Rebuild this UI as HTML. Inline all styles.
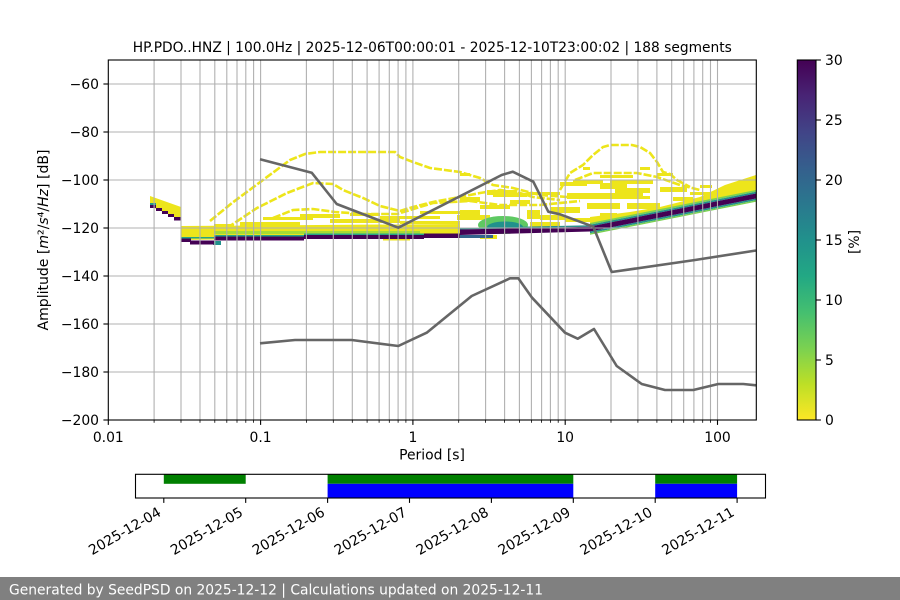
<!DOCTYPE html>
<html><head><meta charset="utf-8"><style>
html,body{margin:0;padding:0;background:#fff;}
svg{display:block;font-family:"DejaVu Sans","Liberation Sans",sans-serif;}
</style></head><body>
<svg width="900" height="600" viewBox="0 0 900 600" xmlns="http://www.w3.org/2000/svg">
<defs>
<linearGradient id="vir" x1="0" y1="0" x2="0" y2="1">
<stop offset="0" stop-color="#440154"/>
<stop offset="0.1" stop-color="#482475"/>
<stop offset="0.2" stop-color="#414487"/>
<stop offset="0.3" stop-color="#355f8d"/>
<stop offset="0.4" stop-color="#2a788e"/>
<stop offset="0.5" stop-color="#21918c"/>
<stop offset="0.6" stop-color="#22a884"/>
<stop offset="0.7" stop-color="#44bf70"/>
<stop offset="0.8" stop-color="#7ad151"/>
<stop offset="0.9" stop-color="#bddf26"/>
<stop offset="1" stop-color="#fde725"/>
</linearGradient>
<clipPath id="ax"><rect x="108.3" y="60" width="648" height="360"/></clipPath>
</defs>
<rect width="900" height="600" fill="#fff"/>

<!-- DATA -->
<g clip-path="url(#ax)">
 <!-- early cluster -->
 <polygon fill="#ede51b" points="150,196 181,207 181,220 150,206"/>
 <rect x="150" y="203" width="6" height="2" fill="#2a9a8a"/>
 <g fill="#440154">
  <rect x="150" y="205" width="6" height="3"/>
  <rect x="156" y="208" width="6" height="3"/>
  <rect x="162" y="211" width="6" height="3"/>
  <rect x="168" y="214" width="6" height="3"/>
  <rect x="174" y="217" width="7" height="3.5"/>
 </g>

 <!-- main yellow band -->
 <polygon fill="#ede51b" points="181,226 460,224 460,236 181,240"/>
 <g fill="#ede51b">
  <rect x="240" y="222" width="60" height="4"/>
  <rect x="263" y="217" width="50" height="3"/>
  <rect x="300" y="214" width="40" height="4"/>
  <rect x="330" y="219" width="70" height="4"/>
  <rect x="350" y="213" width="30" height="3"/>
  <rect x="380" y="216" width="60" height="3"/>
  <rect x="400" y="221" width="60" height="3"/>
  <rect x="420" y="211" width="40" height="3"/>
  <rect x="214" y="224" width="20" height="2"/>
 </g>

 <!-- scattered yellow -->
 <g fill="#ede51b">
  <rect x="460" y="173" width="10" height="3"/>
  <rect x="583" y="167" width="7" height="3"/>
  <rect x="600" y="175" width="33" height="3"/>
  <rect x="640" y="167" width="10" height="3"/>
  <rect x="657" y="173" width="16" height="3"/>
  <rect x="560" y="182" width="27" height="4"/>
  <rect x="600" y="183" width="27" height="6"/>
  <rect x="567" y="193" width="76" height="6"/>
  <rect x="587" y="203" width="33" height="6"/>
  <rect x="460" y="197" width="20" height="5"/>
  <rect x="493" y="193" width="34" height="4"/>
  <rect x="527" y="192" width="33" height="3"/>
  <rect x="550" y="207" width="30" height="6"/>
  <rect x="627" y="203" width="33" height="6"/>
  <rect x="527" y="210" width="13" height="9"/>
  <rect x="600" y="213" width="17" height="9"/>
  <rect x="460" y="210" width="20" height="9"/>
  <rect x="673" y="197" width="20" height="4"/>
  <rect x="573" y="180" width="30" height="4"/>
  <rect x="560" y="207" width="20" height="6"/>
  <rect x="610" y="180" width="43" height="4"/>
  <rect x="615" y="188" width="35" height="5"/>
  <rect x="620" y="196" width="30" height="3"/>
  <rect x="660" y="187" width="27" height="5"/>
  <rect x="690" y="192" width="20" height="3"/>
  <rect x="700" y="185" width="12" height="3"/>
  <rect x="480" y="205" width="30" height="4"/>
  <rect x="510" y="200" width="20" height="4"/>
  <rect x="540" y="215" width="25" height="5"/>
  <rect x="565" y="218" width="25" height="4"/>
  <rect x="457" y="215" width="33" height="5"/>
  <rect x="487" y="190" width="30" height="5"/>
  <rect x="530" y="222" width="30" height="5"/>
  <rect x="480" y="235" width="17" height="4"/>
  <rect x="383" y="238" width="27" height="2.5"/>
 </g>

 <!-- arcs -->
 <g fill="none" stroke="#ede51b" stroke-width="2.6" stroke-dasharray="8 2">
  <polyline points="210,221 232,203 263,180 290,160 305,154 320,152 395,152 400,157 413,162 430,168 460,172 480,178 493,185 513,188 540,195 567,197"/>
  <polyline points="227,228 257,208 287,193 313,183 333,184 343,190 363,198 380,206 400,211 413,207 433,202 460,197 480,193 500,190 520,193 533,197 560,200"/>
  <polyline points="273,218 293,210 313,209 335,212 365,214 397,214 433,203 470,201 500,205 540,205 580,201"/>
  <polyline points="560,190 570,173 583,165 593,155 603,147 610,145 632,145 640,147 650,153 657,162 663,172 670,174 677,180 690,187"/>
  <polyline points="575,180 593,173 637,173 657,177 680,185 700,190"/>
 </g>

 <!-- right fuzz above rising band -->
 <polygon fill="#ede51b" points="590,217 630,212 660,207 700,197 725,185 756,175 756,191 590,224.5"/>

 <!-- green/teal layers -->
 <rect x="214" y="231" width="206" height="3" fill="#a5db36"/>
 <ellipse cx="503" cy="225" rx="25" ry="9" fill="#5ec962"/>
 <ellipse cx="505" cy="227" rx="18" ry="5.5" fill="#21918c"/>
 <rect x="181" y="237" width="33" height="1.5" fill="#26a485"/>
 <rect x="214" y="235" width="90" height="1.5" fill="#26a485"/>
 <rect x="304" y="233.5" width="156" height="1.5" fill="#26a485"/>
 <polygon fill="#2a8f8b" points="460,228 590,225.3 590,226.8 460,229.5"/>
 <rect x="453" y="235" width="40" height="3" fill="#33638d"/>
 <rect x="213" y="241" width="8" height="4" fill="#21918c"/>

 <!-- rising band layers -->
 <polygon fill="#7ad151" points="590,223 756,190 756,191.8 590,224.8"/>
 <polygon fill="#21918c" points="590,224.8 756,191.8 756,193.5 590,226.5"/>
 <polygon fill="#21918c" points="590,231.5 756,198.5 756,200.3 590,233.3"/>
 <polygon fill="#7ad151" points="590,233.3 756,200.3 756,201.8 590,234.8"/>

 <!-- purple core -->
 <g fill="#440154">
  <rect x="181" y="238.5" width="10" height="3.5"/>
  <rect x="190" y="240.5" width="24" height="4"/>
  <rect x="214" y="236.5" width="90" height="4"/>
  <rect x="304" y="235" width="120" height="4"/>
  <rect x="424" y="233.5" width="36" height="4.5"/>
  <polygon points="460,229.5 590,226.8 590,231.5 460,235"/>
  <polygon points="590,226.5 756,193.5 756,198.5 590,231.5"/>
 </g>
</g>

<!-- GRID -->
<g stroke="#b0b0b0" stroke-width="1.1">
 <line x1="108.3" y1="84" x2="756.3" y2="84"/>
 <line x1="108.3" y1="132" x2="756.3" y2="132"/>
 <line x1="108.3" y1="180" x2="756.3" y2="180"/>
 <line x1="108.3" y1="228" x2="756.3" y2="228"/>
 <line x1="108.3" y1="276" x2="756.3" y2="276"/>
 <line x1="108.3" y1="324" x2="756.3" y2="324"/>
 <line x1="108.3" y1="372" x2="756.3" y2="372"/>
 <line x1="154.1" y1="60" x2="154.1" y2="420"/>
 <line x1="181" y1="60" x2="181" y2="420"/>
 <line x1="200" y1="60" x2="200" y2="420"/>
 <line x1="214.8" y1="60" x2="214.8" y2="420"/>
 <line x1="226.8" y1="60" x2="226.8" y2="420"/>
 <line x1="237" y1="60" x2="237" y2="420"/>
 <line x1="245.8" y1="60" x2="245.8" y2="420"/>
 <line x1="253.6" y1="60" x2="253.6" y2="420"/>
 <line x1="260.6" y1="60" x2="260.6" y2="420"/>
 <line x1="306.4" y1="60" x2="306.4" y2="420"/>
 <line x1="333.3" y1="60" x2="333.3" y2="420"/>
 <line x1="352.3" y1="60" x2="352.3" y2="420"/>
 <line x1="367.1" y1="60" x2="367.1" y2="420"/>
 <line x1="379.1" y1="60" x2="379.1" y2="420"/>
 <line x1="389.3" y1="60" x2="389.3" y2="420"/>
 <line x1="398.1" y1="60" x2="398.1" y2="420"/>
 <line x1="405.9" y1="60" x2="405.9" y2="420"/>
 <line x1="412.9" y1="60" x2="412.9" y2="420"/>
 <line x1="458.7" y1="60" x2="458.7" y2="420"/>
 <line x1="485.6" y1="60" x2="485.6" y2="420"/>
 <line x1="504.6" y1="60" x2="504.6" y2="420"/>
 <line x1="519.4" y1="60" x2="519.4" y2="420"/>
 <line x1="531.4" y1="60" x2="531.4" y2="420"/>
 <line x1="541.6" y1="60" x2="541.6" y2="420"/>
 <line x1="550.4" y1="60" x2="550.4" y2="420"/>
 <line x1="558.2" y1="60" x2="558.2" y2="420"/>
 <line x1="565.2" y1="60" x2="565.2" y2="420"/>
 <line x1="611" y1="60" x2="611" y2="420"/>
 <line x1="637.9" y1="60" x2="637.9" y2="420"/>
 <line x1="656.9" y1="60" x2="656.9" y2="420"/>
 <line x1="671.7" y1="60" x2="671.7" y2="420"/>
 <line x1="683.7" y1="60" x2="683.7" y2="420"/>
 <line x1="693.9" y1="60" x2="693.9" y2="420"/>
 <line x1="702.7" y1="60" x2="702.7" y2="420"/>
 <line x1="710.5" y1="60" x2="710.5" y2="420"/>
 <line x1="717.5" y1="60" x2="717.5" y2="420"/>
</g>

<!-- MODEL LINES -->
<g fill="none" stroke="#666666" stroke-width="2.6" stroke-linejoin="round">
 <polyline points="260,159.3 311.7,172.7 336.7,204 398.3,227.7 501.7,175 512.7,171.7 533.3,181.7 548.3,211.7 560,214.3 593.3,226.7 611.7,272 695,260 756,250.5"/>
 <polyline points="260,343.3 295,340 351.7,340 398.3,346 426.7,332.7 471.7,296 510,278.3 518.3,278.3 531.7,297.3 565,332.7 577.7,338.7 594,329 616.7,366 641.7,384 665,390 693.3,390 718.3,384 743.3,384 756,385.3"/>
</g>

<!-- AXES FRAME -->
<rect x="108.3" y="60" width="648" height="360" fill="none" stroke="#000" stroke-width="1.1"/>

<g stroke="#000" stroke-width="1.1">
 <line x1="103.4" y1="84" x2="108.3" y2="84"/>
 <line x1="103.4" y1="132" x2="108.3" y2="132"/>
 <line x1="103.4" y1="180" x2="108.3" y2="180"/>
 <line x1="103.4" y1="228" x2="108.3" y2="228"/>
 <line x1="103.4" y1="276" x2="108.3" y2="276"/>
 <line x1="103.4" y1="324" x2="108.3" y2="324"/>
 <line x1="103.4" y1="372" x2="108.3" y2="372"/>
 <line x1="103.4" y1="420" x2="108.3" y2="420"/>
 <line x1="108.3" y1="420" x2="108.3" y2="424.9"/>
 <line x1="260.6" y1="420" x2="260.6" y2="424.9"/>
 <line x1="412.9" y1="420" x2="412.9" y2="424.9"/>
 <line x1="565.2" y1="420" x2="565.2" y2="424.9"/>
 <line x1="717.5" y1="420" x2="717.5" y2="424.9"/>
</g>
<g stroke="#000" stroke-width="0.8">
 <line x1="154.1" y1="420" x2="154.1" y2="422.8"/><line x1="181" y1="420" x2="181" y2="422.8"/><line x1="200" y1="420" x2="200" y2="422.8"/><line x1="214.8" y1="420" x2="214.8" y2="422.8"/><line x1="226.8" y1="420" x2="226.8" y2="422.8"/><line x1="237" y1="420" x2="237" y2="422.8"/><line x1="245.8" y1="420" x2="245.8" y2="422.8"/><line x1="253.6" y1="420" x2="253.6" y2="422.8"/>
 <line x1="306.4" y1="420" x2="306.4" y2="422.8"/><line x1="333.3" y1="420" x2="333.3" y2="422.8"/><line x1="352.3" y1="420" x2="352.3" y2="422.8"/><line x1="367.1" y1="420" x2="367.1" y2="422.8"/><line x1="379.1" y1="420" x2="379.1" y2="422.8"/><line x1="389.3" y1="420" x2="389.3" y2="422.8"/><line x1="398.1" y1="420" x2="398.1" y2="422.8"/><line x1="405.9" y1="420" x2="405.9" y2="422.8"/>
 <line x1="458.7" y1="420" x2="458.7" y2="422.8"/><line x1="485.6" y1="420" x2="485.6" y2="422.8"/><line x1="504.6" y1="420" x2="504.6" y2="422.8"/><line x1="519.4" y1="420" x2="519.4" y2="422.8"/><line x1="531.4" y1="420" x2="531.4" y2="422.8"/><line x1="541.6" y1="420" x2="541.6" y2="422.8"/><line x1="550.4" y1="420" x2="550.4" y2="422.8"/><line x1="558.2" y1="420" x2="558.2" y2="422.8"/>
 <line x1="611" y1="420" x2="611" y2="422.8"/><line x1="637.9" y1="420" x2="637.9" y2="422.8"/><line x1="656.9" y1="420" x2="656.9" y2="422.8"/><line x1="671.7" y1="420" x2="671.7" y2="422.8"/><line x1="683.7" y1="420" x2="683.7" y2="422.8"/><line x1="693.9" y1="420" x2="693.9" y2="422.8"/><line x1="702.7" y1="420" x2="702.7" y2="422.8"/><line x1="710.5" y1="420" x2="710.5" y2="422.8"/>
</g>

<g font-size="13.9" fill="#000" text-anchor="end">
 <text x="99" y="89">−60</text>
 <text x="99" y="137">−80</text>
 <text x="99" y="185">−100</text>
 <text x="99" y="233">−120</text>
 <text x="99" y="281">−140</text>
 <text x="99" y="329">−160</text>
 <text x="99" y="377">−180</text>
 <text x="99" y="425">−200</text>
</g>
<g font-size="13.9" fill="#000" text-anchor="middle">
 <text x="108.3" y="442">0.01</text>
 <text x="260.6" y="442">0.1</text>
 <text x="412.9" y="442">1</text>
 <text x="565.2" y="442">10</text>
 <text x="717.5" y="442">100</text>
 <text x="432" y="459.5">Period [s]</text>
 <text x="432.3" y="52" textLength="599" lengthAdjust="spacingAndGlyphs">HP.PDO..HNZ | 100.0Hz | 2025-12-06T00:00:01 - 2025-12-10T23:00:02 | 188 segments</text>
</g>
<text font-size="13.9" fill="#000" text-anchor="middle" transform="translate(48,240) rotate(-90)" textLength="181" lengthAdjust="spacingAndGlyphs">Amplitude [<tspan font-style="italic">m</tspan>²/<tspan font-style="italic">s</tspan>⁴/<tspan font-style="italic">Hz</tspan>] [dB]</text>

<!-- COLORBAR -->
<rect x="797.3" y="60" width="18.7" height="360" fill="url(#vir)" stroke="#000" stroke-width="1.1"/>
<g stroke="#000" stroke-width="1.1">
 <line x1="816" y1="60" x2="820.9" y2="60"/>
 <line x1="816" y1="120" x2="820.9" y2="120"/>
 <line x1="816" y1="180" x2="820.9" y2="180"/>
 <line x1="816" y1="240" x2="820.9" y2="240"/>
 <line x1="816" y1="300" x2="820.9" y2="300"/>
 <line x1="816" y1="360" x2="820.9" y2="360"/>
 <line x1="816" y1="420" x2="820.9" y2="420"/>
</g>
<g font-size="13.9" fill="#000">
 <text x="825" y="65">30</text>
 <text x="825" y="125">25</text>
 <text x="825" y="185">20</text>
 <text x="825" y="245">15</text>
 <text x="825" y="305">10</text>
 <text x="825" y="365">5</text>
 <text x="825" y="425">0</text>
</g>
<text font-size="13.9" fill="#000" text-anchor="middle" transform="translate(859,242) rotate(-90)">[%]</text>

<!-- DATE BAR -->
<rect x="163.8" y="474.3" width="81.9" height="9.5" fill="#008000"/>
<rect x="327.6" y="474.3" width="245.7" height="9.5" fill="#008000"/>
<rect x="327.6" y="483.8" width="245.7" height="14.2" fill="#0000ff"/>
<rect x="655.2" y="474.3" width="81.9" height="9.5" fill="#008000"/>
<rect x="655.2" y="483.8" width="81.9" height="14.2" fill="#0000ff"/>
<rect x="135.5" y="474.3" width="630" height="23.7" fill="none" stroke="#000" stroke-width="1.1"/>
<g stroke="#000" stroke-width="1.1">
 <line x1="163.8" y1="498" x2="163.8" y2="502.9"/>
 <line x1="245.7" y1="498" x2="245.7" y2="502.9"/>
 <line x1="327.6" y1="498" x2="327.6" y2="502.9"/>
 <line x1="409.5" y1="498" x2="409.5" y2="502.9"/>
 <line x1="491.4" y1="498" x2="491.4" y2="502.9"/>
 <line x1="573.3" y1="498" x2="573.3" y2="502.9"/>
 <line x1="655.2" y1="498" x2="655.2" y2="502.9"/>
 <line x1="737.1" y1="498" x2="737.1" y2="502.9"/>
</g>
<g font-size="13.9" fill="#000" text-anchor="end">
 <text transform="translate(162,515) rotate(-30)">2025-12-04</text>
 <text transform="translate(243.9,515) rotate(-30)">2025-12-05</text>
 <text transform="translate(325.8,515) rotate(-30)">2025-12-06</text>
 <text transform="translate(407.7,515) rotate(-30)">2025-12-07</text>
 <text transform="translate(489.6,515) rotate(-30)">2025-12-08</text>
 <text transform="translate(571.5,515) rotate(-30)">2025-12-09</text>
 <text transform="translate(653.4,515) rotate(-30)">2025-12-10</text>
 <text transform="translate(735.3,515) rotate(-30)">2025-12-11</text>
</g>

<!-- FOOTER -->
<rect x="0" y="577" width="900" height="23" fill="#808080"/>
<text x="9" y="594.5" font-size="13.9" fill="#fff" textLength="534" lengthAdjust="spacingAndGlyphs">Generated by SeedPSD on 2025-12-12 | Calculations updated on 2025-12-11</text>
</svg>
</body></html>
